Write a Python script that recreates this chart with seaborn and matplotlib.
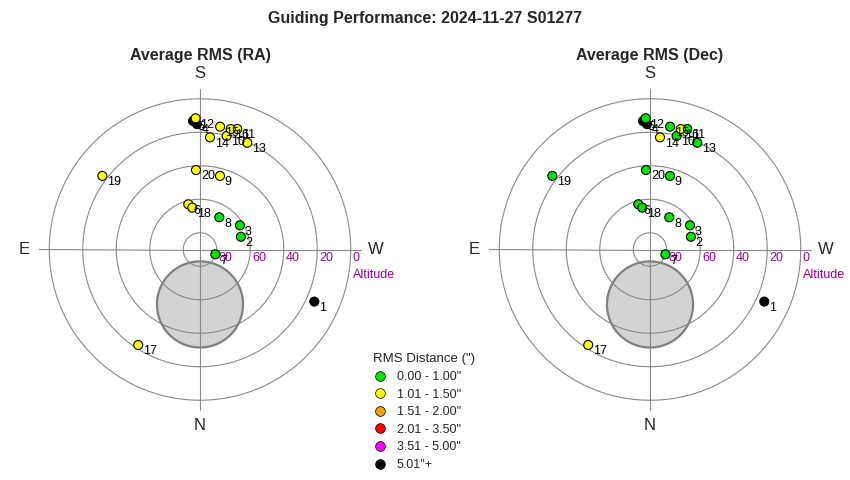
#!/usr/bin/env python3

# Polar sky plots of guiding RMS per frame, RA and Dec side by side.
import numpy as np
import pandas
import matplotlib
matplotlib.use("Agg")
import matplotlib.pyplot as plt
import seaborn as sns
from matplotlib.lines import Line2D

sns.set_style("white")
plt.rcParams["font.family"] = ["Liberation Sans", "DejaVu Sans"]

# Frame positions (azimuth from N through E, altitude in degrees)
frame_ids = list(range(1, 21))
azimuth = [294.5, 252.7, 238.8, 178.6, 176.9, 165.5, 287.4, 210.9, 195.2, 193.2,
           197.2, 178.1, 203.9, 185.1, 189.3, 194.3, 32.9, 169.6, 127.0, 177.1]
altitude = [15.0, 64.4, 62.1, 15.1, 13.2, 62.1, 80.4, 67.6, 44.5, 20.4,
            14.7, 11.6, 20.3, 22.8, 15.7, 15.8, 22.1, 64.6, 17.0, 42.5]

# RMS bin index per frame (0 = best ... 5 = worst)
ra_bin = [5, 0, 0, 5, 5, 1, 0, 0, 1, 1, 1, 1, 1, 1, 1, 1, 1, 1, 1, 1]
dec_bin = [5, 0, 0, 5, 5, 0, 0, 0, 0, 0, 0, 0, 0, 1, 0, 1, 1, 0, 0, 0]

bin_labels = ['0.00 - 1.00"', '1.01 - 1.50"', '1.51 - 2.00"',
              '2.01 - 3.50"', '3.51 - 5.00"', '5.01"+']
bin_colors = ["#00e600", "#ffff00", "#f0a000", "#ff0000", "#ff00ff", "#000000"]

ring_altitudes = [0, 20, 40, 60, 80]

# Moon avoidance disk
moon_az = 0.0
moon_alt = 57.2
moon_radius = 25.7

palette = dict(zip(bin_labels, bin_colors))
df = pandas.DataFrame({
    "frame": frame_ids,
    "theta": np.radians(azimuth),
    "zd": 90 - np.array(altitude),
    "ra": [bin_labels[b] for b in ra_bin],
    "dec": [bin_labels[b] for b in dec_bin],
})

grid_color = "#888888"
label_purple = "#990099"


def draw_sky(ax, column, title):
    ax.set_theta_zero_location("S")
    ax.set_theta_direction(-1)
    ax.set_ylim(0, 90)
    ax.grid(False)
    ax.set_xticks([])
    ax.set_yticks([])
    ax.spines["polar"].set_visible(False)
    ax.set_facecolor("white")

    # moon disk
    mt = np.radians(moon_az)
    cx, cy = (90 - moon_alt) * np.cos(mt), (90 - moon_alt) * np.sin(mt)
    phi = np.linspace(0, 2 * np.pi, 200)
    px, py = cx + moon_radius * np.cos(phi), cy + moon_radius * np.sin(phi)
    ax.fill(np.arctan2(py, px), np.hypot(px, py), facecolor="#d3d3d3",
            edgecolor="#808080", linewidth=1.6, zorder=1)

    # altitude rings and cross
    ring = np.linspace(0, 2 * np.pi, 361)
    for alt in ring_altitudes:
        ax.plot(ring, np.full_like(ring, 90 - alt), color=grid_color, lw=0.8,
                zorder=2, clip_on=False)
        ax.annotate(str(alt), (np.radians(270), 90 - alt), xytext=(1.5, -2),
                    textcoords="offset points", ha="left", va="top",
                    fontsize=9, color=label_purple, zorder=5)
    ax.annotate("Altitude", (np.radians(270), 90), xytext=(1.5, -18),
                textcoords="offset points", ha="left", va="center",
                fontsize=9, color=label_purple)
    for a in [0, 90, 180, 270]:
        t = np.radians(a)
        ax.plot([t, t], [0, 96], color=grid_color, lw=0.8, zorder=2, clip_on=False)

    for name, a in [("N", 0), ("E", 90), ("S", 180), ("W", 270)]:
        ax.text(np.radians(a), 105, name, ha="center", va="center",
                fontsize=12, clip_on=False)

    sns.scatterplot(data=df, x="theta", y="zd", hue=column, palette=palette,
                    hue_order=bin_labels, s=42, edgecolor="black", linewidth=0.8,
                    legend=False, ax=ax, zorder=4, clip_on=False)
    for _, row in df.iterrows():
        ax.annotate(str(row["frame"]), (row["theta"], row["zd"]), xytext=(3.5, -4.5),
                    textcoords="offset points", ha="left", va="center",
                    fontsize=9, color="black", zorder=6)
    ax.set_xlabel("")
    ax.set_ylabel("")
    ax.set_title(title, fontsize=11.5, fontweight="bold", pad=28)


fig = plt.figure(figsize=(8.5, 4.8), dpi=100)
ax_ra = fig.add_axes([49.25 / 850, 79.75 / 480, 301.5 / 850, 301.5 / 480], projection="polar")
ax_dec = fig.add_axes([499.25 / 850, 79.75 / 480, 301.5 / 850, 301.5 / 480], projection="polar")
draw_sky(ax_ra, "ra", "Average RMS (RA)")
draw_sky(ax_dec, "dec", "Average RMS (Dec)")

fig.suptitle("Guiding Performance: 2024-11-27 S01277", fontsize=11.5,
             fontweight="bold", y=1 - 18 / 480, va="center")

handles = [Line2D([0], [0], marker="o", linestyle="", markerfacecolor=c,
                  markeredgecolor="black", markeredgewidth=0.5, markersize=7)
           for c in bin_colors]
fig.legend(handles, bin_labels, title='RMS Distance (")', loc="upper left",
           bbox_to_anchor=(367 / 850, 1 - 347 / 480), frameon=False,
           fontsize=9, title_fontsize=9.5, alignment="left", borderpad=0,
           labelspacing=0.45, handlelength=1.0, handletextpad=0.9)

fig.savefig("out.png", dpi=100)
